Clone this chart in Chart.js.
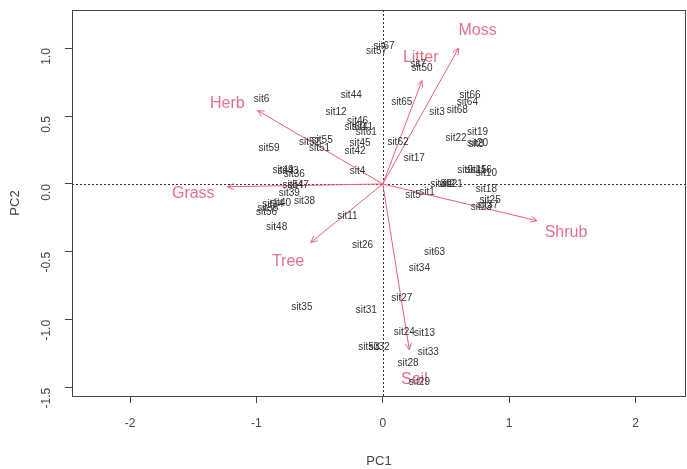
<!DOCTYPE html>
<html>
<head>
<meta charset="utf-8">
<script src="https://cdn.jsdelivr.net/npm/chart.js@4/dist/chart.umd.min.js"></script>
<style>
html,body{margin:0;padding:0;background:#fff;}
#wrap{width:687px;height:469px;}
</style>
</head>
<body>
<div id="wrap"><canvas id="c" width="687" height="469"></canvas></div>
<script>
// ---- data ----
const siteNames = ["sit67","sit57","sit50","sit7","sit6","sit44","sit12","sit46","sit41","sit61","sit60","sit45","sit42","sit52","sit55","sit51","sit59","sit62","sit65","sit3","sit68","sit66","sit64","sit22","sit19","sit20","sit8","sit17","sit4","sit49","sit43","sit36","sit47","sit54","sit39","sit40","sit38","sit14","sit58","sit56","sit48","sit11","sit26","sit9","sit15","sit16","sit10","sit30","sit2","sit21","sit5","sit1","sit18","sit25","sit23","sit37","sit63","sit34","sit27","sit35","sit31","sit24","sit13","sit53","sit32","sit33","sit28","sit29"];
const sitePC1 = [0.01,-0.05,0.31,0.28,-0.96,-0.25,-0.37,-0.20,-0.16,-0.13,-0.22,-0.18,-0.22,-0.58,-0.48,-0.50,-0.90,0.12,0.15,0.43,0.59,0.69,0.67,0.58,0.75,0.75,0.74,0.25,-0.20,-0.79,-0.75,-0.70,-0.67,-0.71,-0.74,-0.81,-0.62,-0.87,-0.91,-0.92,-0.84,-0.28,-0.16,0.65,0.74,0.78,0.82,0.46,0.51,0.55,0.24,0.35,0.82,0.85,0.78,0.83,0.41,0.29,0.15,-0.64,-0.13,0.17,0.33,-0.11,-0.03,0.36,0.20,0.29];
const sitePC2 = [1.01,0.98,0.85,0.88,0.62,0.65,0.53,0.46,0.42,0.38,0.42,0.30,0.24,0.31,0.32,0.26,0.26,0.31,0.60,0.53,0.54,0.65,0.60,0.34,0.38,0.30,0.29,0.19,0.09,0.10,0.09,0.07,-0.01,-0.01,-0.07,-0.14,-0.13,-0.15,-0.18,-0.21,-0.32,-0.24,-0.45,0.10,0.10,0.10,0.08,0.00,0.00,0.00,-0.08,-0.06,-0.04,-0.12,-0.17,-0.16,-0.50,-0.62,-0.84,-0.91,-0.93,-1.09,-1.10,-1.20,-1.20,-1.24,-1.32,-1.46];

const varNames = ["Moss","Litter","Herb","Grass","Tree","Shrub","Soil"];
const varPC1 = [0.60,0.31,-0.99,-1.23,-0.57,1.22,0.21];
const varPC2 = [1.00,0.76,0.54,-0.02,-0.43,-0.27,-1.22];
const varLabelPC1 = [0.75,0.30,-1.23,-1.50,-0.75,1.45,0.25];
const varLabelPC2 = [1.13,0.93,0.59,-0.07,-0.57,-0.36,-1.44];

const xTicks = [-2,-1,0,1,2];
const yTicks = [-1.5,-1.0,-0.5,0.0,0.5,1.0];

const ARROW = '#e8607c';
const ARROW_TXT = '#e5708a';
const SITE_TXT = '#333333';

// ---- datasets ----
const datasets = [];
datasets.push({
  label: 'sites',
  data: siteNames.map((n,i)=>({x:sitePC1[i], y:sitePC2[i]})),
  pointRadius: 0, showLine: false
});
varNames.forEach((n,i)=>{
  datasets.push({
    label: n,
    data: [{x:0,y:0},{x:varPC1[i],y:varPC2[i]}],
    showLine: true, borderColor: ARROW, borderWidth: 1,
    pointRadius: 0
  });
});

const biplot = {
  id: 'biplot',
  beforeDatasetsDraw(chart){
    const {ctx, chartArea:a, scales:{x,y}} = chart;
    ctx.save();
    ctx.strokeStyle = '#333';
    ctx.lineWidth = 1;
    ctx.setLineDash([2,2]);
    const x0 = Math.round(x.getPixelForValue(0))+0.5;
    const y0 = Math.round(y.getPixelForValue(0))+0.5;
    ctx.beginPath(); ctx.moveTo(a.left,y0); ctx.lineTo(a.right,y0); ctx.stroke();
    ctx.beginPath(); ctx.moveTo(x0,a.top); ctx.lineTo(x0,a.bottom); ctx.stroke();
    ctx.restore();
  },
  afterDatasetsDraw(chart){
    const {ctx, scales:{x,y}} = chart;
    ctx.save();
    ctx.strokeStyle = ARROW; ctx.lineWidth = 1;
    varNames.forEach((n,i)=>{
      const px0 = x.getPixelForValue(0), py0 = y.getPixelForValue(0);
      const px = x.getPixelForValue(varPC1[i]), py = y.getPixelForValue(varPC2[i]);
      const ang = Math.atan2(py-py0, px-px0);
      const L = 7, spread = Math.PI/7;
      ctx.beginPath();
      ctx.moveTo(px - L*Math.cos(ang-spread), py - L*Math.sin(ang-spread));
      ctx.lineTo(px, py);
      ctx.lineTo(px - L*Math.cos(ang+spread), py - L*Math.sin(ang+spread));
      ctx.stroke();
    });
    ctx.fillStyle = ARROW_TXT;
    ctx.font = '16px "Liberation Sans", Arial, sans-serif';
    ctx.textAlign = 'center'; ctx.textBaseline = 'middle';
    varNames.forEach((n,i)=>{
      ctx.fillText(n, x.getPixelForValue(varLabelPC1[i]), y.getPixelForValue(varLabelPC2[i]));
    });
    ctx.fillStyle = SITE_TXT;
    ctx.font = '10px "Liberation Sans", Arial, sans-serif';
    siteNames.forEach((n,i)=>{
      ctx.fillText(n, x.getPixelForValue(sitePC1[i]), y.getPixelForValue(sitePC2[i]));
    });
    ctx.restore();
  },
  afterDraw(chart){
    const {ctx, chartArea:a} = chart;
    ctx.save();
    ctx.strokeStyle = '#444'; ctx.lineWidth = 1;
    ctx.strokeRect(Math.round(a.left)+0.5, Math.round(a.top)+0.5, Math.round(a.right-a.left)-1, Math.round(a.bottom-a.top));
    ctx.restore();
  }
};

const tickFont = {family:'"Liberation Sans", Arial, sans-serif', size:12};
new Chart(document.getElementById('c'), {
  type: 'scatter',
  data: {datasets},
  plugins: [biplot],
  options: {
    responsive: false,
    animation: false,
    layout: {padding: {top: 10, right: 1, left: 0, bottom: 0}},
    plugins: {legend: {display:false}, tooltip: {enabled:false}},
    scales: {
      x: {
        type: 'linear', min: -2.46, max: 2.40,
        afterBuildTicks: s => { s.ticks = xTicks.map(v=>({value:v})); },
        afterFit: s => { s.height = 73; s.paddingLeft = 0; s.paddingRight = 0; },
        ticks: {color:'#444', font: tickFont, padding: 13, maxRotation:0, callback: v => String(v)},
        grid: {drawOnChartArea:false, color:'#444', tickLength:7, tickWidth:1},
        border: {display:false},
        title: {display:true, text:'PC1', color:'#444', font:{family:'"Liberation Sans", Arial, sans-serif', size:13}, padding:{top:14,bottom:0}}
      },
      y: {
        type: 'linear', min: -1.56, max: 1.28,
        afterBuildTicks: s => { s.ticks = yTicks.map(v=>({value:v})); },
        afterFit: s => { s.width = 72; s.paddingTop = 0; s.paddingBottom = 0; },
        ticks: {color:'#444', font: tickFont, padding: 18, minRotation:90, maxRotation:90, callback: v => Number(v).toFixed(1)},
        grid: {drawOnChartArea:false, color:'#444', tickLength:7, tickWidth:1},
        border: {display:false},
        title: {display:true, text:'PC2', color:'#444', font:{family:'"Liberation Sans", Arial, sans-serif', size:13}, padding:{top:8,bottom:0}}
      }
    }
  }
});
</script>
</body>
</html>
